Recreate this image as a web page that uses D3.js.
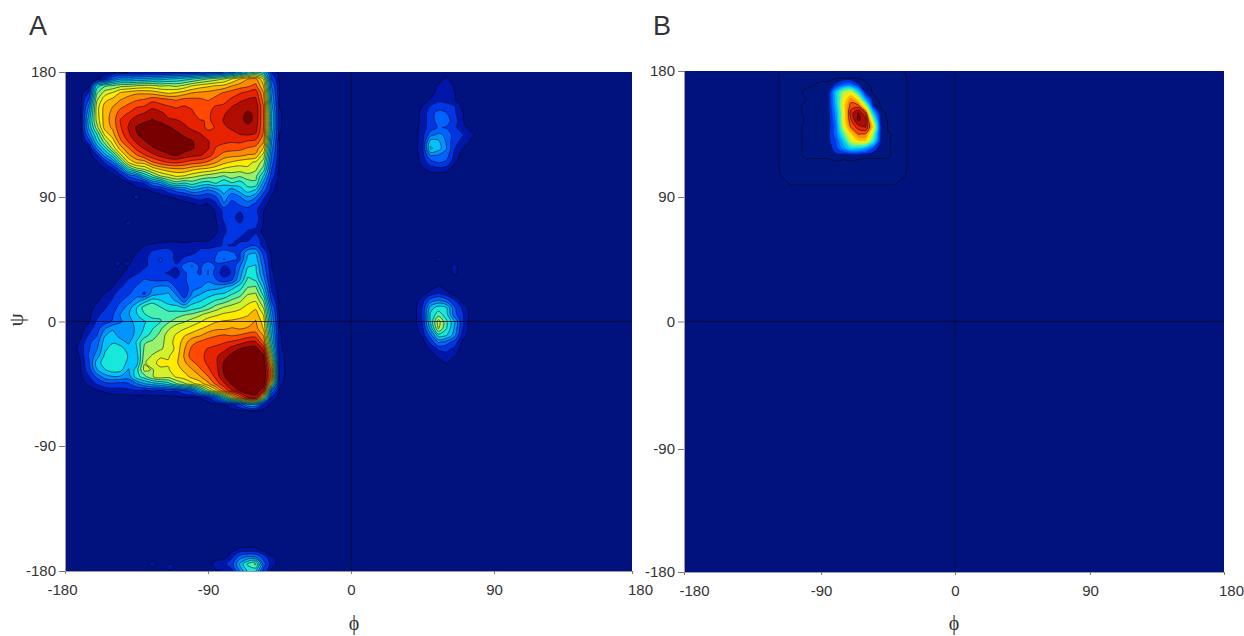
<!DOCTYPE html>
<html><head><meta charset="utf-8">
<script src="https://cdn.jsdelivr.net/npm/d3@7"></script>
<style>html,body{margin:0;background:#fff}svg{display:block}text{font-family:"Liberation Sans",Arial,sans-serif;fill:#333}</style>
</head><body><svg id="c" width="1244" height="636"></svg>
<script>
const tickValues=[-180,-90,0,90,180];
const levelsA=[0.3,1,2,3,4,5,6,7,8,9,10,11,12,13,14,15];
const levelsB=[0.05,0.2,1,2,3,4,5,6,7,8,9,10,11,12,13,14,15];
const levelColors={0.05:"#03157f",0.2:"#03167f",0.3:"#0018a8",1:"#0034e4",2:"#0064ff",3:"#0094ff",4:"#00c4fb",5:"#12e8dc",6:"#48f0b0",7:"#98f26c",8:"#d4f22c",9:"#ffec00",10:"#ffb800",11:"#ff8a00",12:"#ff4a00",13:"#e62200",14:"#b01000",15:"#760600"};

const mainPhi=-175, mainPsi=180;
const mainRows=[
[0,0,0,0,0,0,.2,.3,.3,.4,.4,.5,.6,.7,.8,.9,1,1.2,1.5,2,2.5,3.5,5,5.8,5,1,0,0,0],
[0,0,0,.1,.9,2.8,3.9,3.8,4.1,4.1,4.5,4.5,4.9,5.1,5.5,5.9,6.5,7,7.5,8,9,10,11,11.3,9,2,.1,0,0],
[0,0,.1,5.5,6.8,7.2,7.7,7.8,8.1,8.3,8.3,7.9,8.1,7.8,8.3,9,9.5,9.8,10.1,10.3,11,11.5,11.8,12.3,10,3,.2,0,0],
[0,.05,1.1,6.8,8.5,9.1,10.1,10.5,10.8,10.8,10.6,10.2,9.8,10.1,10.5,11,11.2,11.3,11.6,12.1,12.5,12.9,13.3,13.6,11,3.5,.3,0,0],
[0,.1,2.1,7.8,9.7,10.3,11,11.5,11.9,12.1,12.7,12.5,12.2,11.9,12.3,12.3,12.2,11.9,12.4,12.7,13.2,13.8,14.1,14.2,11.5,4,.3,0,0],
[0,.2,3.1,8.5,10.4,11,11.8,12.3,12.9,13.1,13.7,13.4,13.1,12.9,13.1,12.8,12.6,12.7,13.1,13.2,14,14.4,14.7,14.7,12,4.5,.3,0,0],
[0,.2,3.9,8.5,10.5,11.3,12.6,13.1,13.7,14.1,14.7,14.3,13.7,13.4,13.6,13.3,12.3,12.9,13.2,13.9,14.4,14.7,15.2,14.8,12,5,.4,0,0],
[0,.2,4.5,8.3,10.5,11.4,13.1,13.8,14.6,14.8,15.1,14.8,14.2,14.1,13.8,13.5,13.1,12.9,13.2,14.1,14.4,14.7,15.3,14.7,12,5,.4,0,0],
[0,.15,4.1,7.5,10.4,11.2,12.9,14.1,15.1,15.6,15.8,15.6,15.2,14.6,14.2,13.8,13.5,12.7,13.1,13.8,14.2,14.5,14.7,14.4,12,5,.4,0,0],
[0,.05,3.1,5.9,9.2,10.6,12.5,13.8,14.9,15.5,15.9,16,15.8,15.4,14.8,14.4,14.1,13.5,13.2,13.4,13.6,14,14.1,13.9,11.8,4.5,.3,0,0],
[0,0,1.5,4.9,7.5,9.5,11.8,13.1,14.2,14.9,15.6,16,16,15.9,15.5,15.1,14.5,14.1,13.4,13.2,13.1,13.2,12.9,12.7,11.2,4,.3,0,0],
[0,0,.1,3.1,5.5,8.3,10.5,11.9,13.3,14.1,14.8,15.3,15.6,15.7,15.5,15.1,14.6,14.1,12.9,12.6,12.4,12.3,11.9,11.6,9.9,3.5,.3,0,0],
[0,0,0,.8,3.5,5.5,8.7,10.8,11.9,12.9,13.7,14.3,14.8,15.1,14.6,14.3,14.1,13.5,12.4,11.5,11.3,11.2,10.9,10.8,8.5,3,.3,0,0],
[0,0,0,.2,1.1,2.9,6.1,9.1,10.3,10.5,11.9,12.6,13.1,13.2,12.9,12.5,12.3,11.8,11.1,10.3,9.9,9.5,9.3,8.8,7.5,2.5,.2,0,0],
[0,0,0,0,.3,.7,2.5,5.9,7.5,8.1,9.3,10.1,10.6,10.8,10.8,10.3,9.9,9.7,9.3,8.8,8.5,8.5,8.8,8.2,6.5,2,.1,0,0],
[0,0,0,0,0,.1,.5,2.1,2.9,4.9,6.5,7.9,8.5,9.1,8.9,8.3,7.9,7.5,7.2,6.9,7.5,7.1,7.5,7.3,4.9,1.5,0,0,0],
[0,0,0,0,0,0,0,.2,.7,1.1,2.9,3.5,5.5,6.5,5.9,6.5,5.8,5.5,6.1,5.2,5.9,5.5,6.5,6.8,3.5,.9,0,0,0],
[0,0,0,0,0,0,0,0,0,.2,.4,.8,1.5,2.5,2.9,3.9,3.5,2.9,3.5,4.5,3.5,4.5,5.5,4.9,2.5,.5,0,0,0],
[0,0,0,0,0,0,0,0,0,0,0,0,.2,.4,.8,1.2,1.5,1.2,1.9,3.5,2.5,2.9,3.9,3.1,1.2,.2,0,0,0],
[0,0,0,0,0,0,0,0,0,0,0,0,0,0,0,.2,.4,.3,.8,2.9,1.5,2.2,2.5,1.8,.6,0,0,0,0],
[0,0,0,0,0,0,0,0,0,0,0,0,0,0,0,0,0,0,.4,1.2,1.2,1.1,1.5,1.2,.3,0,0,0,0],
[0,0,0,0,0,0,0,0,0,0,0,0,0,0,0,0,0,0,.3,1.2,1.5,.4,1.8,1.5,.3,0,0,0,0],
[0,0,0,0,0,0,0,0,0,0,0,0,0,0,0,0,0,0,.2,.9,1.9,1.2,1.5,1.2,.2,0,0,0,0],
[0,0,0,0,0,0,0,0,0,0,0,0,0,0,0,0,0,0,.2,.8,1.5,1.8,.9,.8,.1,0,0,0,0],
[0,0,0,0,0,0,0,0,0,0,0,0,0,0,0,0,0,.1,.5,1.1,1.5,.9,.7,1.5,.4,0,0,0,0],
[0,0,0,0,0,0,0,0,0,.3,.4,.5,.6,.6,.5,.6,.8,.6,.8,1.1,.9,1.1,1.5,1.9,.6,0,0,0,0],
[0,0,0,0,0,0,0,0,.3,.5,1.2,1.5,1.5,.7,.8,.8,1.2,1.5,1.9,2.5,2.1,1.8,3.8,3.9,1.5,.1,0,0,0],
[0,0,0,0,0,0,0,.2,.4,.7,1.5,2.1,1.5,.8,1.1,1.5,1.5,1.5,2.1,3.1,2.2,1.9,4.3,4.5,2.1,.2,0,0,0],
[0,0,0,0,0,0,0,.3,.6,.9,1.2,1.8,1.5,1.1,2.5,3.1,1.8,2.9,1.9,.9,1.2,2.9,4.9,5.1,2.5,.3,0,0,0],
[0,0,0,0,0,0,.2,.5,.9,1.3,1.4,1.2,.9,.5,1.8,2.5,1.8,3.1,1.5,.6,1.1,3.5,5.5,5.3,2.9,.4,0,0,0],
[0,0,0,0,0,.1,.4,1.1,1.5,2.1,1.9,1.8,1.8,1.2,1.7,2.9,2.5,2.8,2.1,1.3,1.9,3.9,6.3,5.9,3.5,.5,0,0,0],
[0,0,0,0,.1,.3,.9,1.5,2.1,2.5,2.9,3.2,3.1,1.8,1.2,2.8,2.9,3.5,3.5,3.9,4.5,5.5,6.9,7.1,4.5,.8,0,0,0],
[0,0,0,.1,.3,.8,1.5,1.9,2.5,1.8,3.5,3.9,4.1,2.9,1.2,3.1,3.9,4.5,4.9,5.1,5.9,6.5,7.9,8.1,5.5,1.2,0,0,0],
[0,0,0,.2,.6,1.1,1.9,2.5,3.5,4.5,5.5,5.1,4.5,3.9,2.5,4.5,4.9,5.5,6.1,6.5,7.2,7.8,8.7,8.9,6.9,1.9,0,0,0],
[0,0,.05,.5,.9,1.5,2.5,3.5,4.9,6.5,6.9,6.1,5.5,5.5,4.9,5.5,5.9,6.5,7.5,8.1,8.5,8.8,9.3,9.8,7.9,2.9,0,0,0],
[0,0,.1,.8,1.3,1.9,3.1,3.9,4.9,5.9,6.5,6.2,6.5,6.5,6.9,7.2,7.8,8.5,8.8,9.2,9.3,9.5,9.9,10.5,8.9,3.5,.2,0,0],
[0,0,.2,1.1,1.5,2.1,2.9,3.5,4.5,4.9,5.5,5.9,6.8,7.5,7.9,8.5,8.9,9.5,9.9,10.1,10.2,10.4,10.5,11.1,9.5,3.9,.3,0,0],
[0,.1,.6,1.5,2.9,3.8,3.5,3.2,4.3,5.1,5.9,6.8,7.8,8.6,8.9,9.3,9.9,10.3,10.8,10.8,11.1,10.9,11.1,11.4,9.9,4.5,.3,0,0],
[0,.2,1.1,1.9,3.9,4.5,3.5,3.2,4.5,5.5,6.5,7.3,8.5,9.1,9.9,10.5,10.9,11.6,11.9,12.1,11.9,12.1,12.5,12.5,10.9,4.9,.4,0,0],
[0,.4,1.8,2.5,4.5,4.9,4.5,3.8,5.1,6.9,7.2,7.5,8.6,9.3,10.5,11.7,12.2,12.5,12.7,12.9,13.2,13.6,14.1,14.2,11.9,5.5,.4,0,0],
[0,.6,1.9,2.9,4.8,5.5,5.5,4.5,4.9,7.2,7.6,7.9,8.3,9.3,10.9,12.3,12.6,13.1,13.3,13.7,14.5,15.1,15.5,15.6,13.9,6.5,.5,0,0],
[0,.4,2.1,3.5,5.2,5.9,5.8,4.9,4.5,7.5,8.1,8.8,8.9,9.5,11.1,12.6,12.8,13.2,13.8,14.6,15.3,15.8,15.9,16,15.3,7.9,.6,0,0],
[0,.3,1.8,4.5,5.5,5.8,5.9,4.5,4.5,7.9,8.5,9.5,9.1,9.8,10.8,11.7,12.5,13.2,13.8,15.1,15.8,16.2,16.4,16.4,15.8,9.9,.8,0,0],
[0,.3,1.5,3.9,4.9,5.5,5.3,3.9,5.5,8.3,7.9,8.6,8.9,9.5,10.2,10.9,11.8,12.8,13.6,15.2,15.9,16.5,16.6,16.6,16.1,11.5,.9,0,0],
[0,.2,.9,2.2,3.5,3.9,3.8,3.5,5.5,6.5,7.9,8.6,8.3,9.1,9.5,10.3,10.9,11.9,13.3,14.9,15.8,16.4,16.7,16.7,16.1,11.5,.8,0,0],
[0,.1,.4,1.1,1.6,1.8,1.6,1.9,2.9,3.9,4.5,4.9,5.5,6.9,7.8,8.7,9.5,10.7,12.3,13.8,15.2,15.9,16.5,16.6,15.8,8.9,.5,0,0],
[0,0,0,.2,.4,.6,.6,.7,.9,.7,1.1,.9,1.2,1.1,1.9,2.5,4.9,7.5,9.5,11.9,13.9,15.2,15.9,16.1,13.9,2.9,.2,0,0],
[0,0,0,0,0,0,0,0,0,0,0,0,0,.1,.2,.2,.3,.9,2.5,5.5,8.9,11.5,13.9,14.3,7.9,.8,0,0,0],
[0,0,0,0,0,0,0,0,0,0,0,0,0,0,0,0,0,0,0,.3,.8,1.9,3.9,4.1,.9,.1,0,0,0],
[0,0,0,0,0,0,0,0,0,0,0,0,0,0,0,0,0,0,0,0,0,0,0,0,0,0,0,0,0]];

const upperIslandPhi=40, upperIslandPsi=180;
const upperIslandRows=[
[0,0,0,0,0,0,0,0],
[0,0,0,0,0.4,0,0,0],
[0,0,0,0.4,0.8,0.2,0,0],
[0,0,0,0.6,0.7,0.35,0,0],
[0,0,0.35,0.8,0.6,0.35,0,0],
[0,0.35,1.1,1.5,1.5,1.1,0.2,0],
[0,0.5,1.5,2.5,2.1,1.2,0.35,0],
[0,0.5,1.5,2.5,2.5,1.5,0.35,0],
[0,0.6,1.5,2.1,1.9,1.2,0.6,0.1],
[0,0.7,2.5,3.2,2.8,1.5,1.1,0.5],
[0,0.7,4.5,4.2,2.9,1.3,0.8,0.2],
[0,0.8,5.2,4.5,3.1,1.1,0.35,0],
[0,0.6,3.1,2.9,2.5,0.8,0,0],
[0,0.5,1.5,2.1,1.8,0.4,0,0],
[0,0.2,0.5,0.6,0.5,0,0,0],
[0,0,0,0,0,0,0,0]];

const midIslandPhi=40, midIslandPsi=50;
const midIslandRows=[
[0,0,0,0,0,0,0,0],
[0,0,0,0.42,0,0,0,0],
[0,0,0,0,0,0.45,0,0],
[0,0,0,0,0,0.42,0,0],
[0,0,0,0,0,0,0,0],
[0,0,0,0.4,0,0,0,0],
[0,0.1,0.6,1.1,0.6,0,0,0],
[0,0.7,2.5,3.2,2.5,1.2,0.1,0],
[0,1.1,4.5,5.5,5.2,2.2,0.9,0],
[0,1.1,5.2,6.5,5.5,2.4,1.2,0],
[0,1.1,5.1,8.5,6.2,4.2,1.2,0],
[0,0.8,4.2,8.1,6.1,3.9,1.1,0],
[0,0.4,2.5,5.5,5.1,3.5,0.6,0],
[0,0,1.2,3.1,2.5,1.5,0.2,0],
[0,0,0.4,1.1,1.2,0.8,0,0],
[0,0,0,0.4,0.7,0.35,0,0],
[0,0,0,0,0.35,0,0,0],
[0,0,0,0,0,0,0,0]];

const bottomIslandPhi=-90, bottomIslandPsi=-160;
const bottomIslandRows=[
[0,0,0,0,0,0,0,0,0],
[0,0,0,0.1,0.5,0.5,0.5,0.1,0],
[0,0,0,0.9,2.5,3.2,3.1,1.5,0.35],
[0,0.6,0.8,1.5,4.2,6.2,7.2,2.5,0.5],
[0,0.2,0.35,0.8,3.1,5.2,5.1,1.5,0.2]];

const specksA=[[-135,90,0.5],[-140,71,0.5],[-147,42,0.5],[-141,42,0.5],[-125,-175,0.5],[-114,-177,0.55]];

const panelBPhi=-120, panelBPsi=180;
const panelBRows=[
[0,.1,.1,.1,.1,.1,.1,.1,.1,.1,.1,.1,.1,.1,.1,.1,.1,.06,0,0],
[0,.1,.1,.1,.15,.15,.15,.15,.15,.15,.15,.15,.15,.15,.1,.1,.1,.1,0,0],
[0,.1,.1,.15,.15,.19,.25,.25,1.2,2.5,2.8,1.1,.25,.15,.1,.1,.1,.1,0,0],
[0,.1,.1,.15,.25,.25,.25,.3,4.5,7.9,8.9,5.2,.5,.15,.1,.1,.1,.1,0,0],
[0,.1,.1,.15,.19,.25,.25,.4,4.5,8.9,11.5,9.5,3.5,.3,.15,.1,.1,.1,0,0],
[0,.1,.1,.15,.25,.25,.25,.5,4.2,9.5,12.5,12.5,8.5,1.1,.15,.1,.1,.1,0,0],
[0,.1,.1,.15,.25,.25,.25,.4,3.5,8.9,13.5,15.1,12.9,4.5,.3,.15,.1,.1,0,0],
[0,.1,.1,.15,.22,.25,.25,.3,3.1,9.1,12.9,15.2,14.5,7.9,.5,.15,.1,.1,0,0],
[0,.1,.1,.15,.25,.25,.25,.5,2.5,8.5,12.1,13.5,14.1,10.1,1.1,.15,.1,.1,0,0],
[0,.1,.1,.15,.25,.25,.25,.7,2.5,6.5,9.9,12.1,11.9,7.9,.9,.25,.1,.1,0,0],
[0,.1,.1,.15,.25,.25,.25,.7,1.9,4.5,8.5,9.9,10.1,6.1,.8,.25,.1,.1,0,0],
[0,.1,.1,.15,.25,.25,.3,.4,1.5,3.5,5.2,4.9,3.9,1.9,.3,.25,.1,.1,0,0],
[0,.1,.1,.15,.25,.25,.25,.25,.8,.3,.5,.3,.25,.25,.25,.25,.1,.1,0,0],
[0,.1,.1,.1,.15,.15,.15,.15,.15,.15,.15,.15,.15,.15,.15,.15,.1,.1,0,0],
[0,.1,.1,.1,.1,.1,.1,.1,.1,.1,.1,.1,.1,.1,.1,.1,.1,.1,0,0],
[0,.07,.1,.1,.1,.1,.1,.1,.1,.1,.1,.1,.1,.1,.1,.1,.1,.07,0,0],
[0,0,.06,.07,.07,.07,.07,.07,.07,.07,.07,.07,.07,.07,.07,.07,.06,0,0,0],
[0,0,0,0,0,0,0,0,0,0,0,0,0,0,0,0,0,0,0,0]];

const svg=d3.select("#c");
const defs=svg.append("defs");
defs.append("filter").attr("id","soft").attr("x","-2%").attr("y","-2%").attr("width","104%").attr("height","104%")
  .append("feGaussianBlur").attr("stdDeviation",0.55);

function speckBlock(s){return {phi0:s[0]-5,psi0:s[1]+5,step:5,rows:[[0,0,0],[0,s[2],0],[0,0,0]]};}

function panel(cfg){
  const x=d3.scaleLinear().domain(tickValues).range(cfg.xr);
  const y=d3.scaleLinear().domain(tickValues).range(cfg.yr);
  const L=cfg.xr[0],R=cfg.xr[4],B=cfg.yr[0],T=cfg.yr[4];
  const g=svg.append("g");
  const id="clip"+cfg.name;
  defs.append("clipPath").attr("id",id).append("rect").attr("x",L).attr("y",T).attr("width",R-L).attr("height",B-T);
  g.append("rect").attr("x",L).attr("y",T).attr("width",R-L).attr("height",B-T).attr("fill","#01127e");
  const plot=g.append("g").attr("clip-path",`url(#${id})`);
  const inner=plot.append("g").attr("filter","url(#soft)");
  cfg.blocks.forEach(b=>{
    const n=b.rows.length,m=b.rows[0].length;
    const line=d3.line().x(d=>x(b.phi0+(d[0]-0.5)*b.step)).y(d=>y(b.psi0-(d[1]-0.5)*b.step)).curve(d3.curveCatmullRomClosed.alpha(0.5));
    const conts=d3.contours().size([m,n]).smooth(true).thresholds(cfg.levels)(b.rows.flat());
    conts.forEach(c=>{
      if(!c.coordinates.length)return;
      const dstr=c.coordinates.map(poly=>poly.map(r=>line(r.slice(0,-1))).join("")).join("");
      const showLine=cfg.lineFrom===undefined||c.value<1||c.value>=cfg.lineFrom;
      inner.append("path").attr("d",dstr).attr("fill",levelColors[c.value]).attr("fill-rule","evenodd")
        .attr("stroke",showLine?"#04041e":"none").attr("stroke-opacity",0.7).attr("stroke-width",0.8);
    });
  });
  plot.append("line").attr("x1",x(0)).attr("x2",x(0)).attr("y1",T).attr("y2",B).attr("stroke","#0a0a30").attr("stroke-width",0.8);
  plot.append("line").attr("x1",L).attr("x2",R).attr("y1",y(0)).attr("y2",y(0)).attr("stroke","#0a0a30").attr("stroke-width",0.8);
  const fmt=d=>String(d);
  const ax=g.append("g").attr("transform",`translate(0,${B})`).call(d3.axisBottom(x).tickValues(tickValues).tickSize(3).tickPadding(10).tickFormat(fmt));
  const ay=g.append("g").attr("transform",`translate(${L},0)`).call(d3.axisLeft(y).tickValues(tickValues).tickSize(6).tickPadding(3).tickFormat(fmt));
  [ax,ay].forEach(a=>{a.select(".domain").attr("stroke","#9a9aa8");a.selectAll(".tick line").attr("stroke","#777");a.selectAll("text").attr("font-size",15).attr("fill","#333");});
  ax.selectAll(".tick text").filter(d=>d===-180).attr("dx",cfg.xShift);
  ax.selectAll(".tick text").filter(d=>d===180).attr("dx",cfg.xShift180);
  g.append("text").text(cfg.name).attr("x",cfg.letterX).attr("y",35).attr("font-size",27).attr("fill","#404040");
  g.append("text").text("ϕ").attr("x",cfg.phiX).attr("y",cfg.phiY).attr("text-anchor","middle").attr("font-size",20).style("font-family","Liberation Serif");
  if(cfg.psi){
    g.append("text").text("ψ").attr("transform",`translate(23,320) rotate(-90)`).attr("text-anchor","middle").attr("font-size",21).style("font-family","Liberation Serif");
  }
}

panel({name:"A",xr:[65,208,351,494,632],yr:[571,446,321.5,197,72],levels:levelsA,letterX:29,phiX:354,phiY:630,psi:true,xShift:-3,xShift180:8,
  blocks:[{phi0:mainPhi,psi0:mainPsi,step:5,rows:mainRows},
          {phi0:upperIslandPhi,psi0:upperIslandPsi,step:5,rows:upperIslandRows},
          {phi0:midIslandPhi,psi0:midIslandPsi,step:5,rows:midIslandRows},
          {phi0:bottomIslandPhi,psi0:bottomIslandPsi,step:5,rows:bottomIslandRows},
          ...specksA.map(speckBlock)]});
panel({name:"B",xr:[684,821,955,1090,1224],yr:[572,449,321.5,197,71],levels:levelsB,lineFrom:12,letterX:653,phiX:954,phiY:630,psi:false,xShift:10,xShift180:7,
  blocks:[{phi0:panelBPhi,psi0:panelBPsi,step:5,rows:panelBRows}]});
</script></body></html>
